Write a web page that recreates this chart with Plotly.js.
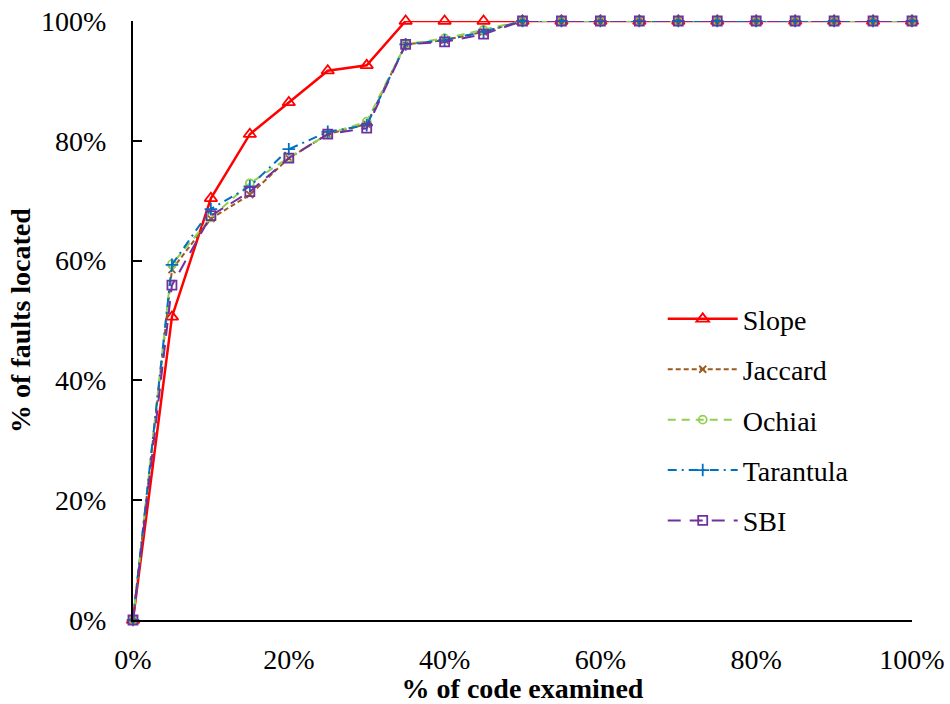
<!DOCTYPE html>
<html>
<head>
<meta charset="utf-8">
<script src="https://cdn.plot.ly/plotly-3.0.1.min.js"></script>
<style>body{margin:0;padding:0;background:#fff;}#chart{width:950px;height:704px;}</style>
</head>
<body>
<div id="chart"></div>
<script>
const codeExamined = [0,5,10,15,20,25,30,35,40,45,50,55,60,65,70,75,80,85,90,95,100];
const slope     = [0,50.6,70.4,81.1,86.4,91.7,92.6,100,100,100,100,100,100,100,100,100,100,100,100,100,100];
const jaccard   = [0,58.5,67.0,71.0,77.1,81.1,82.8,96.1,96.8,98.2,100,100,100,100,100,100,100,100,100,100,100];
const ochiai    = [0,59.4,67.2,72.9,77.2,81.1,83.2,96.1,97.1,98.5,100,100,100,100,100,100,100,100,100,100,100];
const tarantula = [0,59.3,68.6,72.4,78.6,81.5,82.6,96.1,96.8,98.2,100,100,100,100,100,100,100,100,100,100,100];
const sbi       = [0,55.9,67.5,71.5,77.1,81.1,82.1,96.1,96.5,97.8,100,100,100,100,100,100,100,100,100,100,100];
const seriesNames = ["Slope","Jaccard","Ochiai","Tarantula","SBI"];

const toFrac = a => a.map(v => v/100);
const xs = toFrac(codeExamined);
const SERIF = "Times New Roman, Liberation Serif, serif";

const styles = [
  {color:"#FF0000", dash:"solid", width:2.5, symbol:"triangle-up-open", size:11},
  {color:"#9C5A1E", dash:"5px,3px", width:2, symbol:"x-thin-open", size:7},
  {color:"#92D050", dash:"8px,6px", width:2, symbol:"circle-open", size:8},
  {color:"#0070C0", dash:"9px,5px,2px,5px", width:2, symbol:"cross-thin-open", size:9},
  {color:"#7030A0", dash:"13px,9px", width:2, symbol:"square-open", size:9}
];
const data = [slope, jaccard, ochiai, tarantula, sbi];

const traces = data.map((d,i) => ({
  x: xs, y: toFrac(d), name: seriesNames[i], legendgroup: "g" + i,
  type: "scatter", mode: "lines+markers", cliponaxis: false,
  line: {color: styles[i].color, dash: styles[i].dash, width: styles[i].width},
  marker: {symbol: styles[i].symbol, size: styles[i].size, color: styles[i].color,
           line: {color: styles[i].color, width: 1.8}}
}));

const layout = {
  width: 950, height: 704,
  margin: {l:133, r:38, t:21, b:84},
  paper_bgcolor: "#fff", plot_bgcolor: "#fff",
  font: {family: SERIF, color: "#000", size: 28},
  xaxis: {
    range: [0, 1], tickformat: ".0%", dtick: 0.2, tick0: 0,
    showgrid: false, zeroline: false, showline: true, linecolor: "#000", linewidth: 2,
    ticks: "", ticklabelstandoff: 13,
    tickfont: {size: 28, family: SERIF},
    title: {text: "<b>% of code examined</b>", font: {size: 28, family: SERIF}, standoff: 0}
  },
  yaxis: {
    range: [0, 1], tickformat: ".0%", dtick: 0.2, tick0: 0,
    showgrid: false, zeroline: false, showline: true, linecolor: "#000", linewidth: 2,
    ticks: "inside", ticklen: 9, tickwidth: 2, tickcolor: "#000",
    tickfont: {size: 28, family: SERIF}, ticklabelstandoff: 19,
    title: {text: "<b>% of faults located</b>", font: {size: 28, family: SERIF}, standoff: 2}
  },
  legend: {
    x: 0.68, y: 0.544, xanchor: "left", yanchor: "top",
    font: {size: 28, family: SERIF},
    bgcolor: "rgba(0,0,0,0)", itemwidth: 70, tracegroupgap: 11
  },
  showlegend: true
};

Plotly.newPlot("chart", traces, layout, {displayModeBar: false, staticPlot: true});
</script>
</body>
</html>
